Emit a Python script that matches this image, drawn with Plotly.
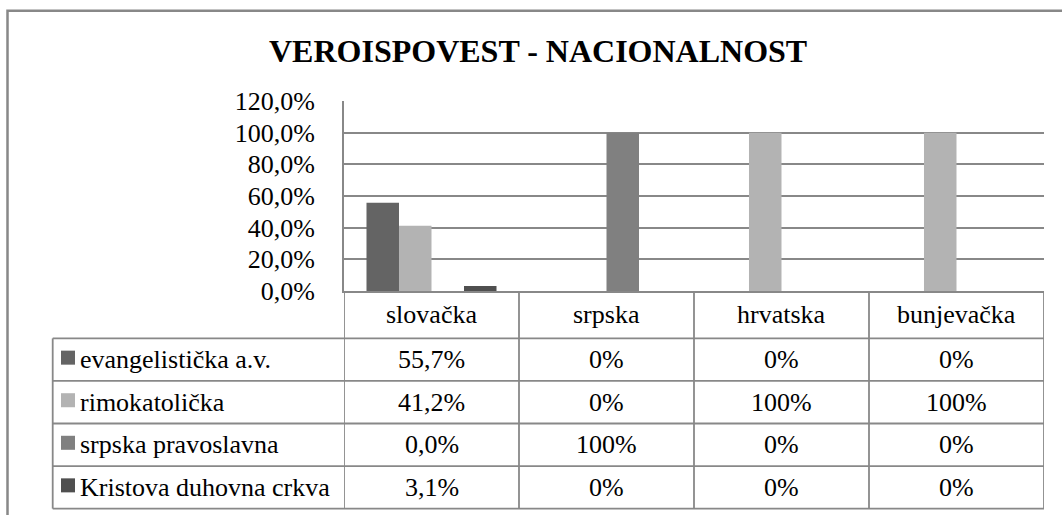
import plotly.graph_objects as go

# ---------------- data ----------------
title_text = "VEROISPOVEST - NACIONALNOST"
categories = ["slovačka", "srpska", "hrvatska", "bunjevačka"]
series_names = ["evangelistička a.v.", "rimokatolička", "srpska pravoslavna", "Kristova duhovna crkva"]
evangelisticka = [55.7, 0, 0, 0]
rimokatolicka = [41.2, 0, 100, 100]
srpska_pravoslavna = [0.0, 100, 0, 0]
kristova_duhovna = [3.1, 0, 0, 0]
table_decimals = [1, 0, 0, 0]          # how the data table prints each column
y_ticks = [0, 20, 40, 60, 80, 100, 120]
y_tick_labels = [f"{v:.1f}".replace(".", ",") + "%" for v in y_ticks]

series_values = [evangelisticka, rimokatolicka, srpska_pravoslavna, kristova_duhovna]
colors = ["#646464", "#b3b3b3", "#808080", "#4f4f4f"]

# ---------------- geometry (pixels) ----------------
W, H = 1062, 515
PL, PR, PT, PB = 344, 1044, 101, 290.7
GRID = "#888888"
FONT = "Liberation Serif"
FS = 26


def px2x(px):
    return (px - PL) / (PR - PL)


def py2y(py):
    return (PB - py) / (PB - PT)


fig = go.Figure()
for name, vals, col in zip(series_names, series_values, colors):
    fig.add_trace(go.Bar(x=categories, y=vals, name=name, marker=dict(color=col, line=dict(width=0))))

shapes = []
annotations = []

# outer chart frame (extends beyond the picture at right / bottom)
shapes.append(dict(type="rect", xref="paper", yref="paper",
                   x0=px2x(7.5), x1=px2x(1075), y0=py2y(530), y1=py2y(11),
                   line=dict(color=GRID, width=2.5), layer="below"))

# data table
header_bottom = 338
row_h = 42.5
table_left = 52.7
row_lines = [header_bottom + i * row_h for i in range(len(series_names) + 1)]
table_bottom = row_lines[-1]

for ry in row_lines:
    shapes.append(dict(type="line", xref="paper", yref="paper",
                       x0=px2x(table_left), x1=px2x(PR), y0=py2y(ry), y1=py2y(ry),
                       line=dict(color=GRID, width=1.8)))
shapes.append(dict(type="line", xref="paper", yref="paper",
                   x0=px2x(table_left), x1=px2x(table_left), y0=py2y(header_bottom), y1=py2y(table_bottom),
                   line=dict(color=GRID, width=1.8)))
for i in range(len(categories) + 1):
    shapes.append(dict(type="line", xref="x", yref="paper",
                       x0=i - 0.5, x1=i - 0.5, y0=py2y(PB), y1=py2y(table_bottom),
                       line=dict(color=GRID, width=1.8)))

# header: category names
for c in categories:
    annotations.append(dict(xref="x", yref="paper", x=c, y=py2y((PB + header_bottom) / 2),
                            text=c, showarrow=False, xanchor="center", yanchor="middle",
                            font=dict(family=FONT, size=FS, color="black")))

# rows
for r, (name, vals, col) in enumerate(zip(series_names, series_values, colors)):
    cy = row_lines[r] + row_h / 2
    shapes.append(dict(type="rect", xref="paper", yref="paper",
                       x0=px2x(61), x1=px2x(75), y0=py2y(cy + 5), y1=py2y(cy - 9),
                       fillcolor=col, line=dict(width=0)))
    annotations.append(dict(xref="paper", yref="paper", x=px2x(78), y=py2y(cy),
                            text=name, showarrow=False, xanchor="left", yanchor="middle",
                            font=dict(family=FONT, size=FS, color="black")))
    for c, v, d in zip(categories, vals, table_decimals):
        txt = f"{v:.{d}f}".replace(".", ",") + "%"
        annotations.append(dict(xref="x", yref="paper", x=c, y=py2y(cy),
                                text=txt, showarrow=False, xanchor="center", yanchor="middle",
                                font=dict(family=FONT, size=FS, color="black")))

# title
annotations.append(dict(xref="paper", yref="paper", x=px2x(538), y=py2y(51),
                        text="<b>" + title_text + "</b>", showarrow=False,
                        xanchor="center", yanchor="middle",
                        font=dict(family=FONT, size=32, color="black")))

fig.update_layout(
    width=W, height=H,
    margin=dict(l=PL, r=W - PR, t=PT, b=H - PB, pad=0),
    paper_bgcolor="white", plot_bgcolor="white",
    barmode="group", bargap=0.257, bargroupgap=0,
    showlegend=False,
    shapes=shapes, annotations=annotations,
    font=dict(family=FONT, size=FS, color="black"),
    xaxis=dict(type="category", range=[-0.5, len(categories) - 0.5], showticklabels=False,
               showgrid=False, showline=True, linecolor=GRID, linewidth=2, zeroline=False,
               fixedrange=True),
    yaxis=dict(range=[0, 120], tickmode="array", tickvals=y_ticks, ticktext=y_tick_labels,
               showgrid=True, gridcolor=GRID, gridwidth=2, showline=True, linecolor=GRID,
               linewidth=2, zeroline=False, ticks="", ticklabelstandoff=22,
               tickfont=dict(family=FONT, size=FS, color="black"), fixedrange=True),
)

fig.write_html("out.html", config={"displayModeBar": False},
               post_script="document.body.style.margin='0';document.body.style.overflow='hidden';")
